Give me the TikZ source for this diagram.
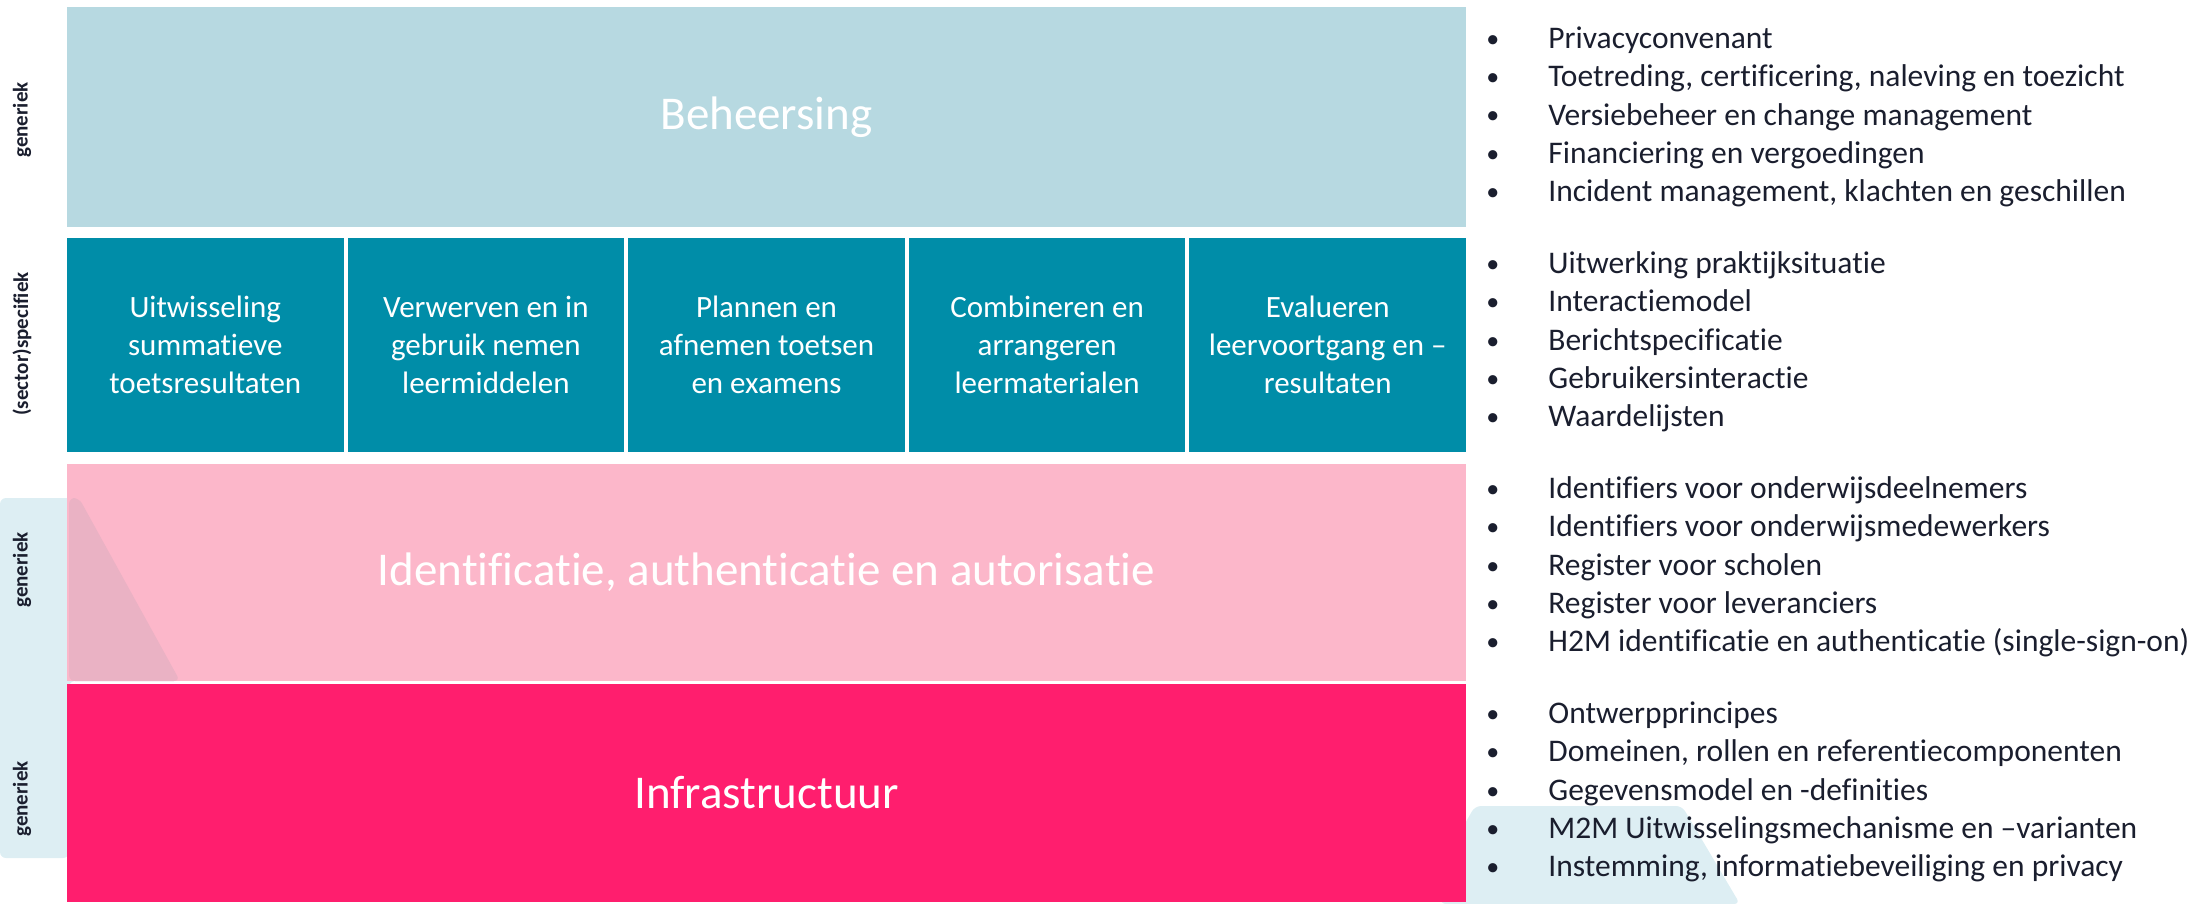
\documentclass[tikz,border=0pt]{standalone}
\usepackage{fontspec}
\setmainfont{Carlito}[Ligatures=NoCommon]
\definecolor{beheer}{HTML}{B7D9E1}
\definecolor{sector}{HTML}{008DA8}
\definecolor{iaa}{HTML}{FCB7CA}
\definecolor{infra}{HTML}{FF1E6E}
\definecolor{strip}{HTML}{DDEEF3}
\definecolor{overlap}{HTML}{EAB2C4}
\definecolor{ink}{HTML}{1A1E2E}
\newcommand{\listbullet}{\makebox[31pt][l]{\raisebox{0.6pt}{\fontsize{13}{13}\selectfont •}}}
\tikzset{
  layer/.style={inner sep=0pt, text=white, align=center, minimum width=699.5pt,
    font=\fontsize{23.5}{28}\selectfont},
  taak/.style={inner sep=0pt, text=white, align=center, fill=sector,
    minimum width=138.3pt, minimum height=107pt, font=\fontsize{15.5}{19}\selectfont},
  zijlabel/.style={rotate=90, inner sep=0pt, text=ink, font=\fontsize{10.5}{12}\selectfont\bfseries},
  punt/.style={anchor=base west, inner sep=0pt, text=ink, font=\fontsize{15.75}{19}\selectfont}
}
\begin{document}
\begin{tikzpicture}[x=0.5pt,y=-0.5pt]
  \useasboundingbox (0,0) rectangle (2199,904);
  % background shapes
  \fill[strip, rounded corners=3pt] (0,498) -- (79,498) -- (180,681) -- (69,681) -- (69,858) -- (0,858) -- cycle;
  \fill[strip, rounded corners=3pt] (1440,867) -- (1475,806) -- (1682,806) -- (1740,904) -- (1440,904) -- cycle;
  % layers
  \node[layer, fill=beheer, minimum height=110pt] (beheersing) at (766.5,117) {Beheersing};
  \begin{scope}[every node/.style={taak}]
    \node (uitwisseling) at (205.3,345) {Uitwisseling\\summatieve\\toetsresultaten};
    \node (verwerven) at (485.9,345) {Verwerven en in\\gebruik nemen\\leermiddelen};
    \node (plannen) at (766.5,345) {Plannen en\\afnemen toetsen\\en examens};
    \node (combineren) at (1047.1,345) {Combineren en\\arrangeren\\leermaterialen};
    \node (evalueren) at (1327.7,345) {Evalueren\\leervoortgang en –\\resultaten};
  \end{scope}
  \node[layer, fill=iaa, minimum height=108.5pt] (iaa) at (766.5,572.5) {};
  \fill[overlap, rounded corners=3pt] (69,498) -- (79,498) -- (180,681) -- (69,681) -- cycle;
  \node[layer] at (iaa) {Identificatie, authenticatie en autorisatie};
  \node[layer, fill=infra, minimum height=109pt] (infra) at (766.5,793) {Infrastructuur};
  % side labels
  \node[zijlabel] (gen1) at (22,120) {generiek};
  \node[zijlabel] (spec) at (22,344) {(sector)specifiek};
  \node[zijlabel] (gen2) at (22,570) {generiek};
  \node[zijlabel] (gen3) at (22,799) {generiek};
  % lists
  \begin{scope}[every node/.style={punt}]
    \node (b1) at (1486,48.6) {\listbullet Privacyconvenant};
    \node (b2) at (1486,86.9) {\listbullet Toetreding, certificering, naleving en toezicht};
    \node (b3) at (1486,125.2) {\listbullet Versiebeheer en change management};
    \node (b4) at (1486,163.5) {\listbullet Financiering en vergoedingen};
    \node (b5) at (1486,201.8) {\listbullet Incident management, klachten en geschillen};
    \node (s1) at (1486,273.6) {\listbullet Uitwerking praktijksituatie};
    \node (s2) at (1486,311.9) {\listbullet Interactiemodel};
    \node (s3) at (1486,350.2) {\listbullet Berichtspecificatie};
    \node (s4) at (1486,388.5) {\listbullet Gebruikersinteractie};
    \node (s5) at (1486,426.8) {\listbullet Waardelijsten};
    \node (i1) at (1486,498.6) {\listbullet Identifiers voor onderwijsdeelnemers};
    \node (i2) at (1486,536.9) {\listbullet Identifiers voor onderwijsmedewerkers};
    \node (i3) at (1486,575.2) {\listbullet Register voor scholen};
    \node (i4) at (1486,613.5) {\listbullet Register voor leveranciers};
    \node (i5) at (1486,651.8) {\listbullet H2M identificatie en authenticatie (single-sign-on)};
    \node (o1) at (1486,723.6) {\listbullet Ontwerpprincipes};
    \node (o2) at (1486,761.9) {\listbullet Domeinen, rollen en referentiecomponenten};
    \node (o3) at (1486,800.2) {\listbullet Gegevensmodel en -definities};
    \node (o4) at (1486,838.5) {\listbullet M2M Uitwisselingsmechanisme en –varianten};
    \node (o5) at (1486,876.8) {\listbullet Instemming, informatiebeveiliging en privacy};
  \end{scope}
\end{tikzpicture}
\end{document}
